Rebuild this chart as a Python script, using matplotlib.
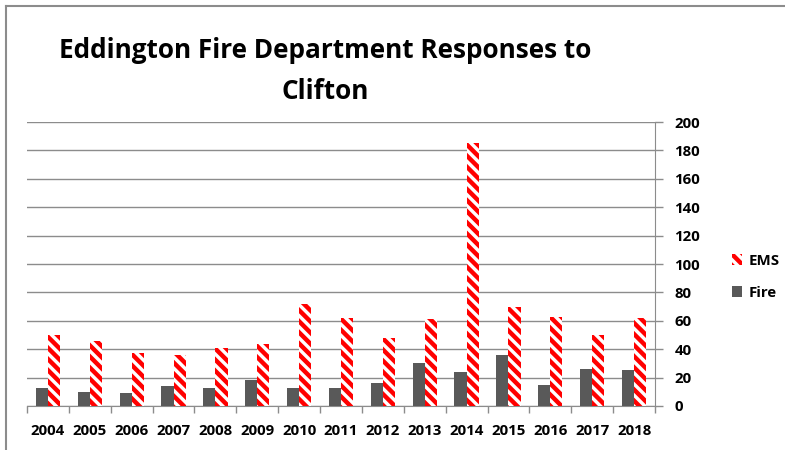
import matplotlib
matplotlib.use("Agg")
import matplotlib.pyplot as plt
import numpy as np
from matplotlib.lines import Line2D

years = ["2004", "2005", "2006", "2007", "2008", "2009", "2010", "2011",
         "2012", "2013", "2014", "2015", "2016", "2017", "2018"]
fire = [13, 10, 9, 14, 13, 18, 13, 13, 16, 30, 24, 36, 15, 26, 25]
ems = [50, 46, 37, 36, 41, 44, 72, 62, 48, 61, 185, 70, 63, 50, 62]

plt.rcParams["font.family"] = ["Open Sans", "DejaVu Sans"]
plt.rcParams["font.weight"] = "bold"
plt.rcParams["hatch.linewidth"] = 3.2

fig = plt.figure(figsize=(7.85, 4.5), dpi=100)
ax = fig.add_axes([0.0344, 0.0978, 0.800, 0.631])

x = np.arange(len(years))
w = 0.29
ax.bar(x - w / 2, fire, w, color="#595959", linewidth=0, zorder=3, label="Fire")
ax.bar(x + w / 2, ems, w, color="white", edgecolor="#ff0000", linewidth=0,
       hatch="\\\\\\", zorder=3, label="EMS")

ax.set_xlim(-0.5, len(years) - 0.5)
ax.set_ylim(0, 200)
ax.set_yticks(range(0, 201, 20))
ax.yaxis.tick_right()
ax.grid(axis="y", color="#8c8c8c", linewidth=1.0, zorder=0)
ax.tick_params(axis="y", length=6, width=1, color="#8c8c8c", labelsize=10.8, pad=8)
for lbl in ax.get_yticklabels():
    lbl.set_horizontalalignment("left")
    lbl.set_fontweight("bold")

ax.set_xticks(x)
ax.set_xticklabels(years, fontsize=10.8, fontweight="bold")
ax.set_xticks(np.arange(-0.5, len(years)), minor=True)
ax.tick_params(axis="x", which="major", length=0, pad=13)
ax.tick_params(axis="x", which="minor", length=5, width=1, color="#8c8c8c")

for s in ["top", "left"]:
    ax.spines[s].set_visible(False)
for s in ["right", "bottom"]:
    ax.spines[s].set_color("#8c8c8c")

handles = [
    plt.Rectangle((0, 0), 1, 1, facecolor="white", edgecolor="#ff0000", linewidth=0, hatch="\\\\\\"),
    plt.Rectangle((0, 0), 1, 1, facecolor="#595959", linewidth=0),
]
fig.legend(handles, ["EMS", "Fire"], loc="center left", bbox_to_anchor=(0.915, 0.385),
           frameon=False, prop={"size": 10.8, "weight": "bold"}, handlelength=0.7,
           handleheight=0.7, handletextpad=0.4, labelspacing=1.2)

fig.text(0.414, 0.872, "Eddington Fire Department Responses to",
         ha="center", va="baseline", fontsize=18.8, fontweight="bold")
fig.text(0.414, 0.781, "Clifton",
         ha="center", va="baseline", fontsize=18.8, fontweight="bold")

# chart frame
fig.add_artist(Line2D([0.0076, 1.0], [0.987, 0.987], color="#8c8c8c", linewidth=1.5))
fig.add_artist(Line2D([0.0076, 0.0076], [0.0, 0.987], color="#8c8c8c", linewidth=1.5))

fig.savefig("out.png", dpi=100)
